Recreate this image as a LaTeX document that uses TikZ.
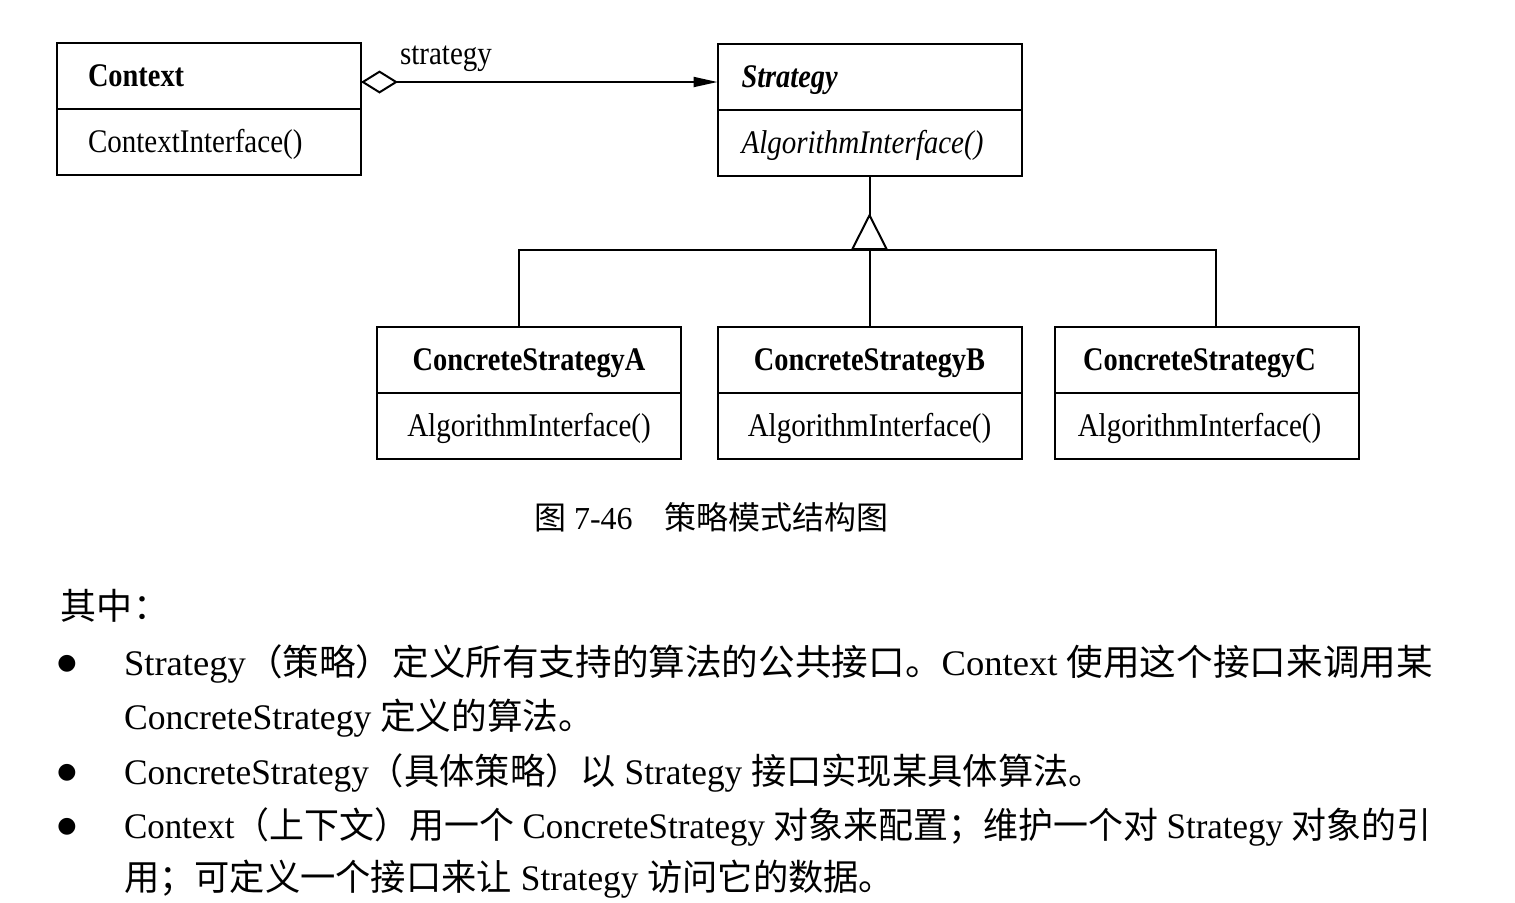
\documentclass[tikz,border=0pt]{standalone}
\usepackage{fontspec}
\setmainfont{Liberation Serif}
\newfontfamily\umlfont[FakeStretch=0.88]{Liberation Serif}
\newfontfamily\umlbold[FakeStretch=0.86]{Liberation Serif}
\newfontfamily\cjkfont{Noto Sans CJK SC}
\newfontfamily\symfont{DejaVu Sans}
\newcommand{\zh}[1]{{\cjkfont #1}}
\usetikzlibrary{arrows.meta,positioning}

\begin{document}
\begin{tikzpicture}[x=0.5pt, y=-0.5pt, line width=1pt,
    headbox/.style={draw, minimum width=152pt, minimum height=33pt,
        inner sep=0pt, outer sep=0pt, text height=13pt, text depth=2.5pt,
        font=\umlbold\fontsize{16.5pt}{19pt}\selectfont\bfseries},
    opsbox/.style={headbox, font=\umlfont\fontsize{16.5pt}{19pt}\selectfont},
    leftcls/.style={align=left, text width=152pt-2*#1, inner xsep=#1},
    bodytext/.style={anchor=base west, inner sep=0pt,
        font=\fontsize{18pt}{22pt}\selectfont},
    dotmark/.style={anchor=base, inner sep=0pt, font=\symfont\fontsize{11pt}{13pt}\selectfont}]
    \useasboundingbox (0,0) rectangle (1515,902);

    % Context class
    \node[headbox, leftcls=15.5pt] (ctx) at (209,76) {Context};
    \node[opsbox, leftcls=15.5pt, below=0pt of ctx] (ctxops) {ContextInterface()};

    % Strategy class, abstract so set in italics
    \node[headbox, leftcls=12pt] (sgy) at (869.5,77) {\itshape Strategy};
    \node[opsbox, leftcls=12pt, below=0pt of sgy] (sgyops) {\itshape AlgorithmInterface()};

    % The three concrete strategies
    \node[headbox] (csA) at (529,360) {ConcreteStrategyA};
    \node[opsbox, below=0pt of csA] (csAops) {AlgorithmInterface()};
    \node[headbox] (csB) at (869.5,360) {ConcreteStrategyB};
    \node[opsbox, below=0pt of csB] (csBops) {AlgorithmInterface()};
    \node[headbox] (csC) at (1206.5,360) {\hspace*{-7pt}ConcreteStrategyC};
    \node[opsbox, below=0pt of csC] (csCops) {\hspace*{-7pt}AlgorithmInterface()};

    % Aggregation from Context to Strategy, role name above
    \draw[{Diamond[open, length=18.5pt, width=11.5pt]}-{Triangle[length=12pt, width=5pt]}]
        ([yshift=-3pt]ctx.east) -- ([yshift=-3pt]ctx.east -| sgy.west);
    \node[anchor=base west, inner sep=0pt, font=\umlfont\fontsize{16.5pt}{19pt}\selectfont]
        (role) at (399,64) {strategy};

    % Generalisation: bus line and hollow triangle
    \coordinate (busy) at (0,250);
    \draw ([xshift=-5pt]csA.north) |- ([xshift=4.75pt]csC.north |- busy)
        -- ([xshift=4.75pt]csC.north);
    \draw (csB.north) -- (csB.north |- busy);
    \draw[{Triangle[open, reversed, length=18.5pt, width=18.5pt]}-]
        (sgyops.south |- busy) -- (sgyops.south);

    % Caption
    \node[anchor=base west, inner sep=0pt, font=\fontsize{16pt}{19pt}\selectfont]
        (caption) at (533,529) {\zh{图} 7-46\quad\zh{策略模式结构图}};

    % Explanation below the figure
    \node[bodytext] (intro) at (60,619) {\zh{其中：}};
    \node[dotmark] (dot1) at (67,669) {●};
    \node[dotmark] (dot2) at (67,778) {●};
    \node[dotmark] (dot3) at (67,832) {●};
    \node[bodytext] (l1) at (123,675)
        {\scalebox{1.017}[1]{Strategy\zh{（策略）定义所有支持的算法的公共接口。}Context \zh{使用这个接口来调用某}}};
    \node[bodytext] (l2) at (123,729) {\scalebox{0.99}[1]{ConcreteStrategy \zh{定义的算法。}}};
    \node[bodytext] (l3) at (123,784)
        {\scalebox{0.98}[1]{ConcreteStrategy\zh{（具体策略）以} Strategy \zh{接口实现某具体算法。}}};
    \node[bodytext] (l4) at (123,838)
        {\scalebox{0.97}[1]{Context\zh{（上下文）用一个} ConcreteStrategy \zh{对象来配置；维护一个对} Strategy \zh{对象的引}}};
    \node[bodytext] (l5) at (123,890)
        {\scalebox{0.98}[1]{\zh{用；可定义一个接口来让} Strategy \zh{访问它的数据。}}};
\end{tikzpicture}
\end{document}
